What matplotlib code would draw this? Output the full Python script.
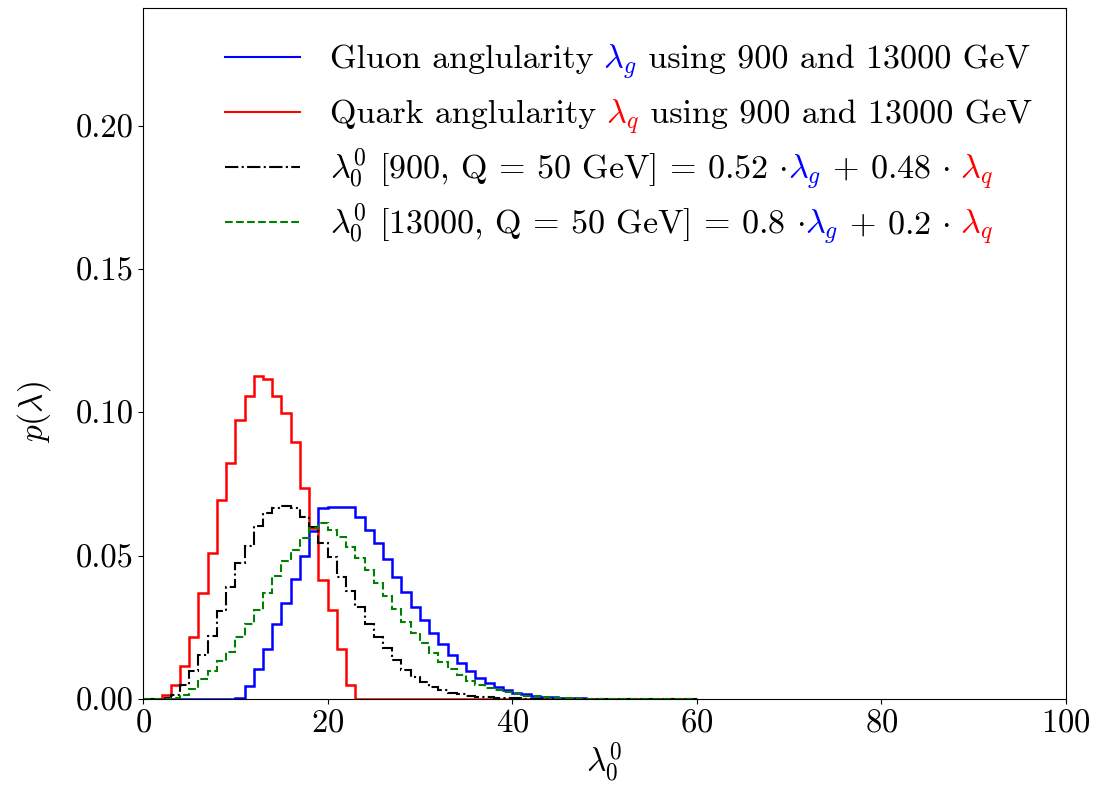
import numpy as np
import matplotlib
matplotlib.use("Agg")
import matplotlib.pyplot as plt

plt.rcParams['font.family'] = ['cmr10', 'DejaVu Serif']
plt.rcParams['mathtext.fontset'] = 'cm'
plt.rcParams['axes.formatter.use_mathtext'] = True

# bin edges (width 1) and bin heights
edges = np.arange(0, 61)

gluon = [0, 0, 0, 0, 0, 0, 0, 0, 0, 0,
         0.0005, 0.0045, 0.0105, 0.0175, 0.026, 0.0335, 0.042, 0.050, 0.0585, 0.0665,
         0.067, 0.067, 0.067, 0.0636, 0.059, 0.0545, 0.0487, 0.0425, 0.0374, 0.032,
         0.0276, 0.023, 0.019, 0.0155, 0.0125, 0.0097, 0.0074, 0.0056, 0.0042, 0.003,
         0.0022, 0.0016, 0.0011, 0.0008, 0.0006, 0.0004, 0.0003, 0.0002, 0.00015, 0.0001,
         0, 0, 0, 0, 0, 0, 0, 0, 0, 0]

quark = [0, 0, 0.0015, 0.0049, 0.0115, 0.0217, 0.0371, 0.0508, 0.0694, 0.0822,
         0.0973, 0.1058, 0.1128, 0.1116, 0.1058, 0.0996, 0.0895, 0.0735, 0.0596, 0.0415,
         0.031, 0.0176, 0.0048, 0, 0, 0, 0, 0, 0, 0,
         0, 0, 0, 0, 0, 0, 0, 0, 0, 0,
         0, 0, 0, 0, 0, 0, 0, 0, 0, 0,
         0, 0, 0, 0, 0, 0, 0, 0, 0, 0]

mix_900 = [0, 0, 0.0005, 0.0015, 0.005, 0.0098, 0.0152, 0.022, 0.0308, 0.039,
           0.0473, 0.0533, 0.0602, 0.065, 0.0667, 0.0672, 0.0665, 0.0636, 0.060, 0.0543,
           0.0495, 0.0427, 0.0375, 0.032, 0.0262, 0.0217, 0.0177, 0.0136, 0.0101, 0.0078,
           0.006, 0.0043, 0.0031, 0.0022, 0.0016, 0.0012, 0.0008, 0.0006, 0.0004, 0.0003,
           0.0002, 0.00015, 0.0001, 0, 0, 0, 0, 0, 0, 0,
           0, 0, 0, 0, 0, 0, 0, 0, 0, 0]

mix_13000 = [0, 0, 0, 0.0003, 0.0014, 0.0036, 0.0068, 0.0098, 0.0133, 0.0165,
             0.0215, 0.026, 0.031, 0.037, 0.043, 0.048, 0.052, 0.056, 0.0595, 0.0612,
             0.059, 0.0565, 0.053, 0.049, 0.045, 0.0405, 0.036, 0.0315, 0.027, 0.023,
             0.0195, 0.0162, 0.013, 0.0104, 0.0082, 0.0064, 0.005, 0.0039, 0.003, 0.0023,
             0.0017, 0.0012, 0.0009, 0.0006, 0.0004, 0.0003, 0.0002, 0.00015, 0.0001, 0,
             0, 0, 0, 0, 0, 0, 0, 0, 0, 0]

fig = plt.figure(figsize=(10.97, 7.89), dpi=100)
ax = fig.add_axes([0.1304, 0.1141, 0.8413, 0.8758])

ax.stairs(gluon, edges, color='b', lw=1.8)
ax.stairs(quark, edges, color='r', lw=1.8)
ax.stairs(mix_900, edges, color='k', ls='-.', lw=1.5)
ax.stairs(mix_13000, edges, color='g', ls='--', lw=1.5)

ax.set_xlim(0, 100)
ax.set_ylim(0, 0.241)
ax.set_yticks([0, 0.05, 0.10, 0.15, 0.20])
ax.set_yticklabels(['0.00', '0.05', '0.10', '0.15', '0.20'])
ax.tick_params(labelsize=23.5)
ax.set_xlabel(r'$\lambda_0^0$', fontsize=24, labelpad=2)
ax.set_ylabel(r'$p(\lambda)$', fontsize=24)
ax.yaxis.set_label_coords(-0.098, 0.415)

# legend drawn by hand so the lambdas can be coloured
rows = [
    ('b', '-', [("Gluon anglularity", 'k'), (r"$\ \lambda_g$", 'b'), (" using 900 and 13000 GeV", 'k')]),
    ('r', '-', [("Quark anglularity", 'k'), (r"$\ \lambda_q$", 'r'), (" using 900 and 13000 GeV", 'k')]),
    ('k', '-.', [(r"$\lambda_0^0$ [900, Q = 50 GeV] = 0.52 $\cdot$", 'k'), (r"$\lambda_g$", 'b'),
                 (r" + 0.48 $\cdot$", 'k'), (r"$\ \lambda_q$", 'r')]),
    ('g', '--', [(r"$\lambda_0^0$ [13000, Q = 50 GeV] = 0.8 $\cdot$", 'k'), (r"$\lambda_g$", 'b'),
                 (r" + 0.2 $\cdot$", 'k'), (r"$\ \lambda_q$", 'r')]),
]
row_y = [0.929, 0.8495, 0.770, 0.690]

fig.canvas.draw()
renderer = fig.canvas.get_renderer()
inv = ax.transAxes.inverted()
for (c, ls, pieces), y in zip(rows, row_y):
    ax.plot([0.089, 0.170], [y, y], color=c, ls=ls, lw=1.5, transform=ax.transAxes)
    x = 0.203
    for s, col in pieces:
        t = ax.text(x, y - 0.0159, s, color=col, fontsize=24.5, transform=ax.transAxes,
                    ha='left', va='baseline')
        bb = t.get_window_extent(renderer)
        x = inv.transform((bb.x1, bb.y0))[0]

fig.savefig('out.png', dpi=100)
